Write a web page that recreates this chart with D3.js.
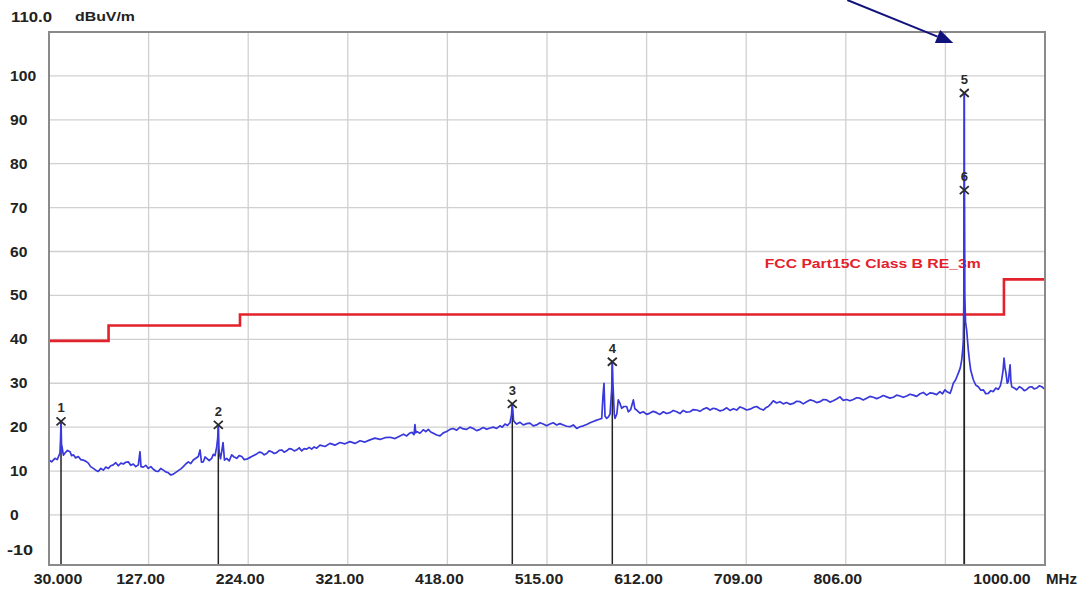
<!DOCTYPE html>
<html>
<head>
<meta charset="utf-8">
<script src="https://cdn.jsdelivr.net/npm/d3@7"></script>
<style>
    body { margin: 0; background: #fff; }
    svg { display: block; }
    text { font-family: 'Liberation Sans', Arial, sans-serif; }
</style>
</head>
<body>
<div id="chart"></div>
<script>
// x axis tick values (MHz) and their printed labels
const xTicks = [30, 127, 224, 321, 418, 515, 612, 709, 806, 903, 1000];
const xTickLabels = ['30.000', '127.00', '224.00', '321.00', '418.00', '515.00', '612.00', '709.00', '806.00', '', '1000.00'];
const yTicks = [-10, 0, 10, 20, 30, 40, 50, 60, 70, 80, 90, 100];

// FCC limit line (step after each frequency)
const limitFreq = [30, 88, 216, 960, 1000];
const limitLevel = [40, 43.5, 46, 54, 54];

// measured spectrum, peak trace
const traceFreq = [
    30.0, 32.5, 35.8, 38.0, 40.7, 41.3, 41.7, 42.2, 42.7, 44.0, 45.6, 48.0, 50.5, 52.0, 53.7, 56.0, 58.5, 61.0, 63.4, 66.0,
    68.3, 70.5, 73.1, 75.5, 78.0, 80.5, 82.9, 85.3, 87.8, 90.2, 92.6, 95.0, 97.5, 100.0, 102.4, 104.8, 107.2, 109.6, 112.1, 114.5,
    117.0, 118.6, 119.6, 121.8, 124.3, 126.7, 129.2, 131.6, 134.0, 136.4, 138.8, 141.3, 143.7, 146.2, 148.6, 151.1, 153.5, 155.9, 158.4, 160.8,
    163.2, 165.7, 168.1, 170.5, 173.0, 175.4, 177.1, 178.5, 180.3, 182.0, 183.6, 186.0, 188.5, 190.0, 191.7, 193.3, 194.3, 194.9, 195.5, 196.0,
    197.0, 198.2, 199.5, 200.9, 203.1, 205.5, 207.9, 210.3, 212.8, 215.2, 217.7, 220.1, 222.5, 225.0, 227.4, 229.8, 232.3, 234.7, 237.1, 239.6,
    242.0, 244.4, 246.9, 249.3, 251.7, 254.2, 256.6, 259.0, 261.5, 264.0, 266.4, 268.8, 271.2, 273.7, 276.1, 278.5, 281.0, 283.4, 285.8, 288.2,
    290.7, 293.9, 298.8, 303.7, 308.5, 313.4, 318.2, 323.1, 328.0, 332.9, 337.7, 342.6, 347.5, 352.4, 357.2, 362.1, 367.0, 371.8, 375.2, 378.4,
    381.0, 383.5, 385.5, 386.4, 387.2, 388.1, 391.3, 394.5, 397.0, 399.4, 401.8, 404.3, 407.5, 410.8, 414.0, 417.3, 420.5, 423.7, 427.0, 430.3,
    433.5, 436.8, 440.0, 443.2, 446.5, 449.8, 453.0, 456.3, 459.5, 462.7, 466.0, 469.2, 471.5, 474.1, 476.5, 479.0, 480.4, 481.2, 482.0, 482.4,
    484.0, 485.5, 488.7, 491.9, 495.2, 498.4, 501.6, 504.9, 508.1, 511.4, 514.6, 517.9, 521.1, 524.4, 527.6, 530.9, 534.1, 537.4, 540.6, 543.9,
    547.1, 550.4, 553.6, 556.9, 560.1, 563.4, 566.0, 568.3, 569.5, 570.5, 571.5, 573.2, 575.0, 576.4, 578.0, 578.6, 579.2, 579.6, 580.5, 581.2,
    583.0, 584.4, 586.1, 587.7, 590.0, 592.6, 594.2, 596.5, 599.1, 600.5, 602.3, 605.5, 608.8, 612.0, 615.3, 618.5, 621.8, 625.0, 628.3, 631.5,
    634.8, 638.0, 641.3, 644.5, 647.7, 651.0, 654.3, 657.5, 660.8, 664.0, 667.2, 670.5, 673.8, 677.0, 680.3, 683.5, 686.7, 690.0, 693.2, 696.5,
    699.7, 703.0, 706.2, 709.5, 712.7, 716.0, 719.2, 722.5, 725.7, 728.0, 730.5, 733.0, 735.4, 738.6, 741.9, 745.1, 748.4, 751.6, 754.9, 758.1,
    761.4, 764.6, 767.9, 771.1, 774.4, 777.6, 780.9, 784.1, 787.4, 790.6, 793.8, 797.0, 800.3, 803.5, 806.8, 810.0, 813.3, 816.5, 819.8, 823.0,
    826.3, 829.5, 832.8, 836.0, 839.3, 842.5, 845.8, 849.0, 852.3, 855.5, 858.8, 862.0, 865.3, 868.5, 871.7, 875.0, 878.3, 881.5, 884.8, 888.0,
    891.2, 894.5, 897.7, 900.2, 902.6, 905.0, 907.5, 909.0, 910.7, 913.0, 915.6, 917.5, 918.9, 920.0, 920.5, 920.9, 921.1, 921.3, 921.4, 921.5,
    921.7, 921.9, 922.6, 923.7, 925.3, 926.5, 927.6, 930.2, 932.5, 935.0, 937.5, 939.9, 942.3, 944.8, 947.2, 949.7, 952.1, 954.5, 956.5, 957.8,
    959.2, 960.1, 961.0, 962.0, 963.2, 964.3, 965.2, 966.0, 966.8, 967.6, 970.0, 972.5, 975.0, 977.4, 979.8, 982.2, 984.7, 987.1, 989.5, 992.0,
    994.4, 996.9, 998.5, 1000.0
];
const traceLevel = [
    12.5, 12.1, 12.9, 12.6, 14.1, 17.5, 21.3, 16.0, 15.5, 13.6, 14.1, 14.7, 14.4, 13.5, 13.7, 13.0, 13.3, 12.6, 12.5, 12.2,
    11.8, 11.0, 10.6, 10.2, 9.9, 10.6, 10.2, 10.9, 10.6, 11.2, 11.4, 11.9, 11.2, 11.8, 11.6, 12.0, 12.1, 11.3, 11.6, 11.0,
    11.4, 14.4, 11.0, 10.9, 11.3, 10.6, 11.0, 10.4, 10.0, 9.9, 10.6, 10.2, 9.8, 9.6, 9.1, 9.3, 9.7, 10.1, 10.5, 11.0,
    11.6, 12.1, 11.7, 12.5, 12.9, 13.3, 14.8, 12.0, 12.1, 13.2, 12.9, 12.4, 12.9, 13.8, 13.5, 15.5, 17.5, 20.5, 15.2, 14.0,
    12.8, 14.4, 16.5, 12.5, 12.9, 12.3, 13.7, 13.2, 12.9, 13.5, 13.3, 12.6, 12.7, 13.0, 13.3, 13.6, 13.9, 14.3, 14.2, 13.7,
    14.0, 14.6, 14.4, 14.0, 14.2, 14.7, 14.8, 14.3, 14.6, 15.1, 15.0, 14.6, 14.8, 15.3, 14.6, 15.1, 15.0, 15.4, 15.0, 15.5,
    15.2, 15.9, 15.6, 16.3, 15.9, 16.5, 16.2, 16.7, 16.3, 16.9, 16.6, 17.1, 17.5, 17.2, 17.6, 17.7, 17.4, 18.0, 18.4, 18.0,
    18.6, 18.8, 18.3, 20.6, 18.7, 19.0, 18.6, 19.4, 19.0, 19.5, 18.9, 18.6, 18.2, 18.0, 18.7, 19.0, 19.5, 19.7, 19.3, 20.0,
    19.6, 19.5, 20.0, 19.7, 19.2, 19.5, 19.9, 19.5, 19.8, 20.0, 19.7, 20.3, 20.0, 20.7, 20.4, 21.0, 22.8, 25.3, 23.0, 21.5,
    21.0, 20.7, 21.1, 20.5, 20.8, 20.9, 20.3, 20.5, 21.0, 20.7, 20.3, 20.7, 21.0, 20.5, 20.8, 20.5, 20.2, 20.1, 20.5, 19.7,
    20.1, 20.3, 20.6, 21.0, 21.3, 21.6, 21.8, 22.0, 27.0, 30.0, 22.5, 22.0, 22.4, 23.0, 28.5, 34.9, 30.0, 28.0, 23.0, 22.0,
    23.0, 26.2, 25.4, 24.3, 24.7, 24.7, 23.5, 24.0, 26.2, 24.2, 23.9, 23.2, 23.5, 22.9, 23.2, 23.6, 23.3, 22.9, 23.5, 23.1,
    23.3, 23.8, 23.5, 23.1, 23.8, 23.4, 23.5, 24.0, 23.9, 23.6, 24.1, 24.4, 23.9, 24.3, 24.1, 23.7, 23.9, 24.4, 23.8, 24.2,
    23.9, 24.6, 24.3, 23.9, 24.1, 24.5, 24.7, 24.2, 23.9, 24.4, 24.7, 25.3, 26.0, 25.5, 25.8, 25.3, 25.6, 25.2, 25.4, 25.9,
    25.8, 25.3, 25.8, 26.2, 26.0, 25.6, 25.8, 26.3, 26.2, 25.7, 26.0, 26.4, 26.9, 26.1, 26.3, 26.0, 26.3, 26.7, 26.6, 26.2,
    26.6, 27.0, 26.8, 26.5, 26.8, 27.2, 26.9, 26.6, 26.8, 27.3, 27.1, 26.8, 27.1, 27.5, 27.3, 27.0, 27.6, 27.9, 27.3, 27.8,
    27.7, 27.4, 28.1, 27.6, 28.5, 28.0, 27.7, 28.6, 30.0, 30.8, 32.3, 33.5, 35.3, 38.0, 39.9, 48.0, 63.0, 74.0, 96.1, 74.0,
    63.0, 50.0, 44.0, 42.1, 37.6, 35.0, 33.0, 30.8, 29.6, 29.2, 28.4, 28.5, 27.6, 27.7, 28.3, 28.1, 28.9, 28.6, 29.4, 30.8,
    33.0, 35.7, 33.6, 32.3, 30.0, 30.4, 32.5, 34.2, 30.5, 29.2, 28.9, 28.5, 29.2, 28.9, 28.3, 28.6, 29.1, 29.2, 28.7, 28.9,
    29.4, 29.2, 28.9, 28.6
];

// peak markers
const markerIds = ['1', '2', '3', '4', '5', '6'];
const markerFreq = [41.7, 194.9, 481.2, 578.6, 921.4, 921.4];
const markerLevel = [21.3, 20.5, 25.3, 34.9, 96.1, 74.0];

const plotChart = () => {
    const width = 1083;
    const height = 590;
    const svg = d3.select('#chart').append('svg').attr('width', width).attr('height', height);

    const x = d3.scaleLinear().domain([30, 1000]).range([49, 1045]);
    const y = d3.scaleLinear().domain([-11.4, 110]).range([565, 32]);

    const font = (sel, size) => sel.style('font-size', size + 'px').style('font-weight', 'bold');
    // the instrument font is a wide bitmap face, stretch text to match
    const wide = (s) => s.length * 8.7 - (s.includes('.') ? 3.5 : 0);

    // grid
    svg.append('g')
        .selectAll('line')
        .data(xTicks.slice(1, -1))
        .enter()
        .append('line')
        .attr('x1', (d) => x(d))
        .attr('x2', (d) => x(d))
        .attr('y1', y.range()[1])
        .attr('y2', y.range()[0])
        .attr('stroke', '#d0d0d0')
        .attr('stroke-width', 1.3);

    svg.append('g')
        .selectAll('line')
        .data(yTicks.filter((d) => d >= 0))
        .enter()
        .append('line')
        .attr('x1', x(30))
        .attr('x2', x(1000))
        .attr('y1', (d) => y(d))
        .attr('y2', (d) => y(d))
        .attr('stroke', '#d0d0d0')
        .attr('stroke-width', 1.3);

    // limit line and its label
    const limit = limitFreq.map((f, i) => ({ f, v: limitLevel[i] }));
    svg.append('path')
        .datum(limit)
        .attr('fill', 'none')
        .attr('stroke', '#e3212b')
        .attr('stroke-width', 2.6)
        .attr('transform', 'translate(0, 1.5)')
        .attr('d', d3.line().curve(d3.curveStepAfter).x((d) => x(d.f)).y((d) => y(d.v)));

    svg.append('text')
        .attr('x', x(727))
        .attr('y', y(56.3))
        .attr('textLength', 216)
        .attr('lengthAdjust', 'spacingAndGlyphs')
        .style('fill', '#e3212b')
        .call(font, 12.5)
        .text('FCC Part15C Class B RE_3m');

    // marker drop lines
    const markers = markerIds.map((id, i) => ({ id, f: markerFreq[i], v: markerLevel[i] }));
    svg.append('g')
        .selectAll('line')
        .data(markers)
        .enter()
        .append('line')
        .attr('x1', (d) => x(d.f))
        .attr('x2', (d) => x(d.f))
        .attr('y1', (d) => y(d.v))
        .attr('y2', y.range()[0])
        .attr('stroke', '#222')
        .attr('stroke-width', 1.5);

    // spectrum trace
    const trace = traceFreq.map((f, i) => ({ f, v: traceLevel[i] }));
    svg.append('path')
        .datum(trace)
        .attr('fill', 'none')
        .attr('stroke', '#3838dc')
        .attr('stroke-width', 1.7)
        .attr('stroke-linejoin', 'round')
        .attr('d', d3.line().x((d) => x(d.f)).y((d) => y(d.v)));

    // marker crosses and numbers
    const mk = svg.append('g').selectAll('g').data(markers).enter().append('g')
        .attr('transform', (d) => `translate(${x(d.f)}, ${y(d.v)})`);
    mk.append('path')
        .attr('d', 'M-4.5,-4L4.5,4M4.5,-4L-4.5,4')
        .attr('stroke', '#2a2a2a')
        .attr('stroke-width', 1.8)
        .attr('fill', 'none');
    mk.append('text')
        .attr('y', -9)
        .attr('text-anchor', 'middle')
        .style('fill', '#2a2a2a')
        .call(font, 13)
        .text((d) => d.id);

    // frame
    svg.append('rect')
        .attr('x', x(30))
        .attr('y', y(110))
        .attr('width', x(1000) - x(30))
        .attr('height', y.range()[0] - y(110))
        .attr('fill', 'none')
        .attr('stroke', '#8a8a8a')
        .attr('stroke-width', 2);

    // y labels
    svg.append('g')
        .selectAll('text')
        .data(yTicks)
        .enter()
        .append('text')
        .attr('x', (d) => (d < 0 ? 7 : 10))
        .attr('y', (d) => (d === -10 ? y(d) - 4 : y(d) + 5))
        .attr('textLength', (d) => wide(String(d)))
        .attr('lengthAdjust', 'spacingAndGlyphs')
        .style('fill', '#222')
        .call(font, 14)
        .text((d) => d);

    svg.append('text').attr('x', 11).attr('y', 22)
        .attr('textLength', 41).attr('lengthAdjust', 'spacingAndGlyphs')
        .style('fill', '#222').call(font, 14).text('110.0');
    svg.append('text').attr('x', 75).attr('y', 21)
        .attr('textLength', 60).attr('lengthAdjust', 'spacingAndGlyphs')
        .style('fill', '#222').call(font, 12).text('dBuV/m');

    // x labels
    svg.append('g')
        .selectAll('text')
        .data(xTicks.map((t, i) => ({ t, label: xTickLabels[i] })).filter((d) => d.label))
        .enter()
        .append('text')
        .attr('x', (d) => (d.t === 30 ? x(d.t) + 9 : d.t === 1000 ? x(d.t) - 43 : x(d.t) - 8))
        .attr('y', 584)
        .attr('text-anchor', 'middle')
        .attr('textLength', (d) => wide(d.label))
        .attr('lengthAdjust', 'spacingAndGlyphs')
        .style('fill', '#222')
        .call(font, 14)
        .text((d) => d.label);

    svg.append('text').attr('x', 1046).attr('y', 584)
        .attr('textLength', 31).attr('lengthAdjust', 'spacingAndGlyphs')
        .style('fill', '#222').call(font, 14).text('MHz');

    // arrow pointing at marker 5
    const tipX = x(markerFreq[4]) - 11;
    const tipY = y(110) + 11;
    const ang = Math.atan2(43, 106);
    const hl = 17;
    const hw = 7;
    const bx = tipX - hl * Math.cos(ang);
    const by = tipY - hl * Math.sin(ang);
    svg.append('line')
        .attr('x1', tipX - 106)
        .attr('y1', tipY - 43)
        .attr('x2', bx)
        .attr('y2', by)
        .attr('stroke', '#12127c')
        .attr('stroke-width', 2);
    svg.append('path')
        .attr('d', `M${tipX},${tipY}L${bx + hw * Math.sin(ang)},${by - hw * Math.cos(ang)}L${bx - hw * Math.sin(ang)},${by + hw * Math.cos(ang)}Z`)
        .attr('fill', '#12127c');
};

plotChart();
</script>
</body>
</html>
